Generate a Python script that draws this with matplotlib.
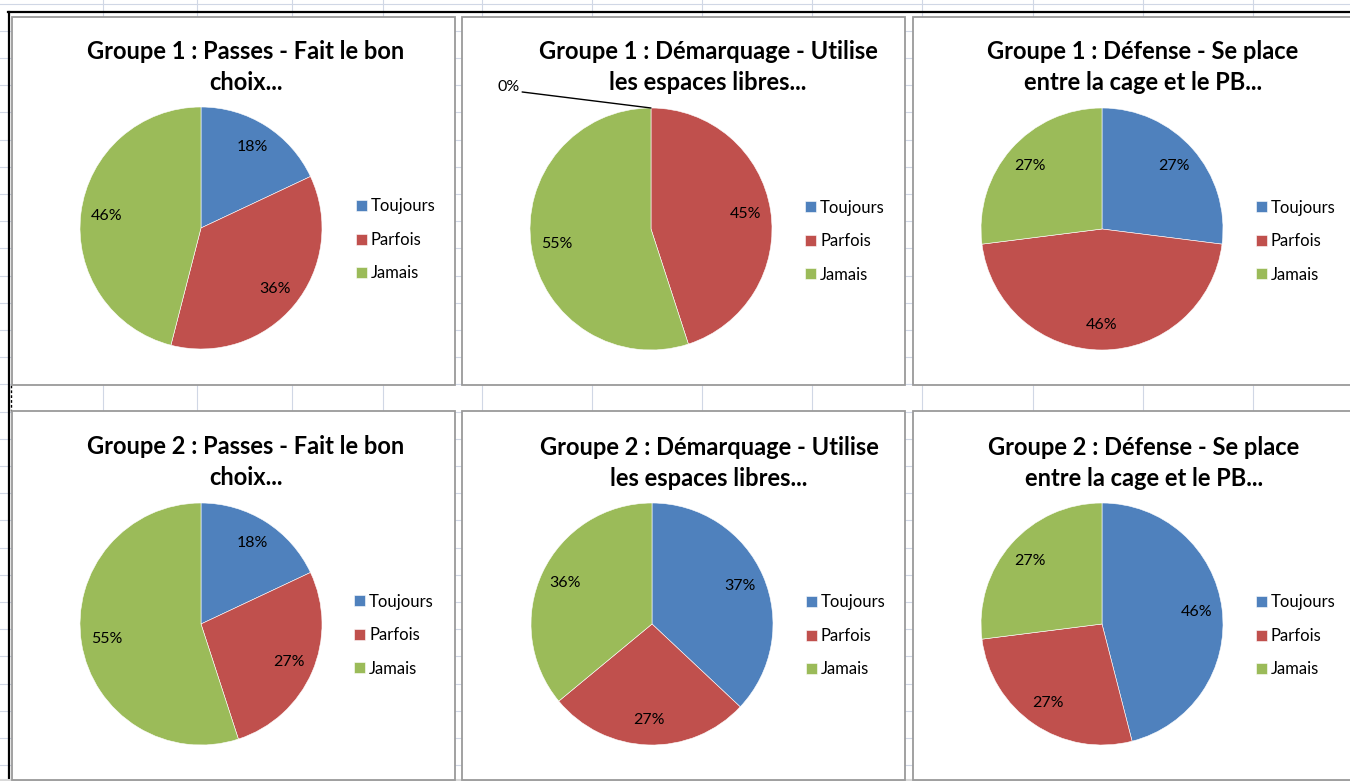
import matplotlib
matplotlib.use("Agg")
import matplotlib.pyplot as plt
from matplotlib.patches import Rectangle

W, H = 1350, 781

categories = ["Toujours", "Parfois", "Jamais"]
colors = ["#4F81BD", "#C0504D", "#9BBB59"]

titles = [
    "Groupe 1 : Passes - Fait le bon\nchoix...",
    "Groupe 1 : Démarquage - Utilise\nles espaces libres...",
    "Groupe 1 : Défense - Se place\nentre la cage et le PB...",
    "Groupe 2 : Passes - Fait le bon\nchoix...",
    "Groupe 2 : Démarquage - Utilise\nles espaces libres...",
    "Groupe 2 : Défense - Se place\nentre la cage et le PB...",
]

g1_passes = [18, 36, 46]
g1_demarquage = [0, 45, 55]
g1_defense = [27, 46, 27]
g2_passes = [18, 27, 55]
g2_demarquage = [37, 27, 36]
g2_defense = [46, 27, 27]
series = [g1_passes, g1_demarquage, g1_defense, g2_passes, g2_demarquage, g2_defense]

# layout (pixels)
panels = [(12, 17, 455, 385), (462, 17, 905, 385), (913, 17, 1360, 385),
          (12, 411, 455, 780), (462, 411, 905, 780), (913, 411, 1360, 780)]
centers = [(201, 228), (651, 229), (1102, 229), (201, 624), (652, 624), (1102, 624)]
radius = 121
title_x = [246, 708, 1143, 246, 709, 1144]
title_y = [67, 67, 67, 462, 463, 463]
legend_x = [356, 805, 1256, 354, 806, 1256]
legend_y = [240, 241, 241, 635, 636, 636]

fig = plt.figure(figsize=(W / 100, H / 100), dpi=100)
fig.patch.set_facecolor("white")

bg = fig.add_axes([0, 0, 1, 1])
bg.set_xlim(0, W)
bg.set_ylim(H, 0)
bg.axis("off")

grid_c = "#D0D7E5"
for k in range(30):
    y = 3.6 + 27.2 * k
    bg.plot([0, W], [y, y], color=grid_c, lw=0.8, zorder=0)
for x in [103, 197, 292, 383, 482, 592, 702, 812, 922, 1033, 1143, 1253]:
    bg.plot([x, x], [0, H], color=grid_c, lw=0.8, zorder=0)

# selection borders
bg.plot([8, W], [12, 12], color="black", lw=1.6, zorder=1)
bg.plot([8.5, 8.5], [12, H], color="black", lw=1.6, zorder=1)
bg.plot([11, 11], [385, 411], color="black", lw=1.0, ls=(0, (2, 1.5)), zorder=1)
bg.plot([0, W], [780, 780], color="#D9D9D9", lw=1.5, zorder=1)

for (x0, y0, x1, y1) in panels:
    bg.add_patch(Rectangle((x0, y0), x1 - x0, y1 - y0, facecolor="white",
                           edgecolor="#9A9A9A", lw=1.3, zorder=2))

title_font = dict(family="Lato", weight="bold", size=17)
for i in range(6):
    fig.text(title_x[i] / W, 1 - title_y[i] / H, titles[i], ha="center", va="center",
             linespacing=1.4, color="black", **title_font)


def fmt(p):
    return "" if p < 0.5 else f"{p:.0f}%"


for i, vals in enumerate(series):
    cx, cy = centers[i]
    ax = fig.add_axes([(cx - radius) / W, 1 - (cy + radius) / H, 2 * radius / W, 2 * radius / H])
    wedges, texts, autotexts = ax.pie(
        vals, colors=colors, startangle=90, counterclock=False,
        autopct=fmt, pctdistance=0.79,
        wedgeprops=dict(edgecolor="white", linewidth=0.4),
        textprops=dict(family="Lato", size=11.5, color="black"))
    ax.set_xlim(-1, 1)
    ax.set_ylim(-1, 1)
    ax.set_aspect("equal")
    for v, w in zip(vals, wedges):
        if v == 0:
            ax.annotate("0%", xy=(0, 1), xytext=(-1.18, 1.17), ha="center", va="center",
                        family="Lato", size=11.5, annotation_clip=False,
                        arrowprops=dict(arrowstyle="-", color="black", lw=1.0,
                                        shrinkA=0, shrinkB=0, relpos=(1, 0.2)))
    fig.legend(wedges, categories, loc="center left",
               bbox_to_anchor=(legend_x[i] / W, 1 - legend_y[i] / H),
               bbox_transform=fig.transFigure, frameon=False,
               prop=dict(family="Lato", size=12), handlelength=0.65, handleheight=0.65,
               handletextpad=0.25, labelspacing=1.05, borderpad=0, borderaxespad=0)

fig.savefig("out.png", dpi=100, facecolor="white")
